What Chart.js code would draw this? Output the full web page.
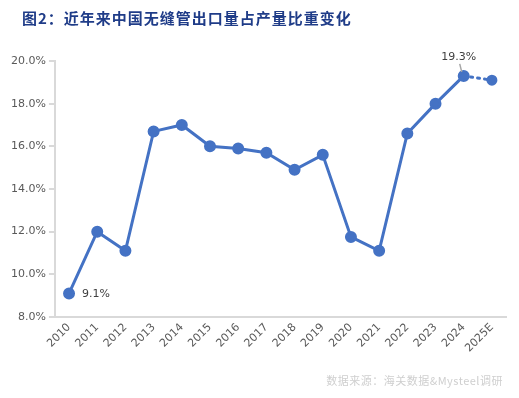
<!DOCTYPE html>
<html>
<head>
<meta charset="utf-8">
<script src="https://cdn.jsdelivr.net/npm/chart.js@4"></script>
<style>
  body { margin: 0; background: #fff; }
  #wrap { position: relative; width: 519px; height: 398px; }
  #title { position: absolute; left: 22px; top: 7px; font: bold 15px "Noto Sans CJK SC"; color: #1f3c88; letter-spacing: 1px; }
  #source { position: absolute; right: 16px; top: 372px; font: 11px "Noto Sans CJK SC"; color: #cfcfcf; letter-spacing: 0.5px; }
  canvas { position: absolute; left: 0; top: 0; }
</style>
</head>
<body>
<div id="wrap">
  <canvas id="chart" width="519" height="398"></canvas>
  <div id="title">图2：近年来中国无缝管出口量占产量比重变化</div>
  <div id="source">数据来源：海关数据&amp;Mysteel调研</div>
</div>
<script>
const years = ["2010", "2011", "2012", "2013", "2014", "2015", "2016", "2017", "2018", "2019", "2020", "2021", "2022", "2023", "2024", "2025E"];
const actual = [9.1, 12.0, 11.1, 16.7, 17.0, 16.0, 15.9, 15.7, 14.9, 15.6, 11.75, 11.1, 16.6, 18.0, 19.3, null];
const forecast = [null, null, null, null, null, null, null, null, null, null, null, null, null, null, 19.3, 19.1];
const yTicks = [8, 10, 12, 14, 16, 18, 20];

const blue = "#4472c4";

const labelPlugin = {
  id: "labels",
  afterDatasetsDraw(chart) {
    const ctx = chart.ctx;
    const meta = chart.getDatasetMeta(0);
    ctx.save();
    ctx.font = "11px 'DejaVu Sans'";
    ctx.fillStyle = "#404040";
    // first point label, right of point
    const p0 = meta.data[0];
    ctx.textAlign = "left";
    ctx.textBaseline = "middle";
    ctx.fillText(actual[0].toFixed(1) + "%", p0.x + 13, p0.y + 1);
    // 2024 label above with leader line
    const p = meta.data[14];
    ctx.strokeStyle = "#a6a6a6";
    ctx.lineWidth = 1.5;
    ctx.beginPath();
    ctx.moveTo(p.x - 2, p.y - 4);
    ctx.lineTo(p.x - 4, p.y - 12);
    ctx.stroke();
    ctx.textAlign = "center";
    ctx.textBaseline = "bottom";
    ctx.fillText(actual[14].toFixed(1) + "%", p.x - 5, p.y - 13);
    ctx.restore();
  }
};

new Chart(document.getElementById("chart"), {
  type: "line",
  data: {
    labels: years,
    datasets: [
      {
        data: actual,
        borderColor: blue,
        backgroundColor: blue,
        borderWidth: 3,
        pointRadius: 4.5,
        pointHoverRadius: 4.5,
        tension: 0
      },
      {
        data: forecast,
        borderColor: blue,
        backgroundColor: blue,
        borderWidth: 3,
        borderDash: [2, 5],
        borderCapStyle: "round",
        pointRadius: [0, 0, 0, 0, 0, 0, 0, 0, 0, 0, 0, 0, 0, 0, 0, 4],
        pointStyle: "circle",
        tension: 0
      }
    ]
  },
  options: {
    responsive: false,
    animation: false,
    layout: { padding: { top: 61, left: 8, right: 13, bottom: 39 } },
    plugins: { legend: { display: false }, tooltip: { enabled: false } },
    scales: {
      x: {
        offset: true,
        grid: { display: false, drawTicks: false },
        border: { color: "#d9d9d9", width: 2 },
        ticks: {
          color: "#595959",
          font: { size: 11, family: "DejaVu Sans" },
          maxRotation: 45,
          minRotation: 45,
          padding: 4,
          autoSkip: false
        }
      },
      y: {
        min: 8,
        max: 20,
        afterBuildTicks(axis) { axis.ticks = yTicks.map(v => ({ value: v })); },
        grid: { drawOnChartArea: false, drawTicks: true, tickLength: 6, color: "#d9d9d9", lineWidth: 2 },
        border: { color: "#d9d9d9", width: 2 },
        ticks: {
          color: "#595959",
          font: { size: 11, family: "DejaVu Sans" },
          padding: 3,
          callback: v => v.toFixed(1) + "%"
        }
      }
    }
  },
  plugins: [labelPlugin]
});
</script>
</body>
</html>
